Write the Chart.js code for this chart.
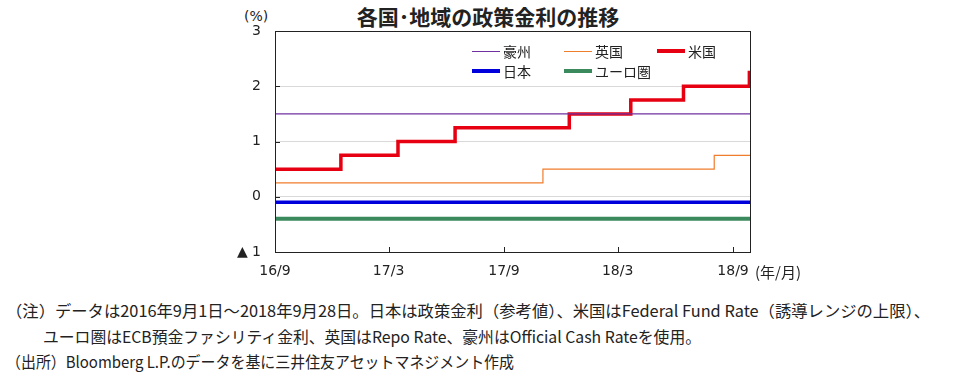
<!DOCTYPE html>
<html>
<head>
<meta charset="utf-8">
<script src="https://cdn.jsdelivr.net/npm/chart.js@4.4.1/dist/chart.umd.min.js"></script>
<style>
  body { margin: 0; background: #fff; width: 960px; height: 376px; overflow: hidden; position: relative;
         font-family: "Noto Sans CJK JP", "DejaVu Sans", sans-serif; color: #222; }
  .abs { position: absolute; white-space: nowrap; }
  #wrap { position: absolute; left: 0; top: 0; width: 960px; height: 290px; }
  .lg { position: absolute; height: 20px; line-height: 20px; font-size: 14px; white-space: nowrap; padding-left: 31px; }
  .lg i { position: absolute; left: 0; width: 28px; }
  .note { position: absolute; font-size: 16px; height: 24px; line-height: 24px; white-space: nowrap; transform-origin: 0 50%; }
</style>
</head>
<body>
<div class="abs" style="left:0;width:976px;top:3px;height:26px;line-height:26px;text-align:center;font-size:21px;font-weight:bold;">各国･地域の政策金利の推移</div>
<div class="abs" style="left:244px;top:6px;height:20px;line-height:20px;font-size:14px;font-family:'DejaVu Sans',sans-serif;">(%)</div>
<div id="wrap"><canvas id="rateChart"></canvas></div>
<div class="abs" style="left:755px;top:262px;height:20px;line-height:20px;font-size:15px;">(年/月)</div>
<div id="legend"></div>
<div class="note" data-w="924" style="left:6px;top:298px;">（注）データは2016年9月1日～2018年9月28日。日本は政策金利（参考値）、米国はFederal Fund Rate（誘導レンジの上限）、</div>
<div class="note" data-w="658" style="left:43px;top:324px;">ユーロ圏はECB預金ファシリティ金利、英国はRepo Rate、豪州はOfficial Cash Rateを使用。</div>
<div class="note" data-w="508" style="left:6px;top:349px;">（出所）Bloomberg L.P.のデータを基に三井住友アセットマネジメント作成</div>
<script>
// date range of the data
const startDate = '2016-09-01'
const endDate = '2018-09-28'

// x axis ticks
const xTickDates = ['2016-09-01', '2017-03-01', '2017-09-01', '2018-03-01', '2018-09-01']
const xTickLabels = ['16/9', '17/3', '17/9', '18/3', '18/9']

// policy rates (%), value holds until next change date
const auDates = ['2016-09-01', '2018-09-28']
const auRates = [1.5, 1.5]
const ukDates = ['2016-09-01', '2017-11-02', '2018-08-02', '2018-09-28']
const ukRates = [0.25, 0.5, 0.75, 0.75]
const usDates = ['2016-09-01', '2016-12-15', '2017-03-16', '2017-06-15', '2017-12-14', '2018-03-22', '2018-06-14', '2018-09-27', '2018-09-28']
const usRates = [0.5, 0.75, 1.0, 1.25, 1.5, 1.75, 2.0, 2.25, 2.25]
const jpDates = ['2016-09-01', '2018-09-28']
const jpRates = [-0.1, -0.1]
const euDates = ['2016-09-01', '2018-09-28']
const euRates = [-0.4, -0.4]

const dayMs = 86400000
const toDay = (s) => (Date.parse(s) - Date.parse(startDate)) / dayMs
const toPoints = (dates, rates) => dates.map((d, i) => ({x: toDay(d), y: rates[i]}))

const series = [
    {label: '豪州', dates: auDates, rates: auRates, color: '#7030a0', width: 1.2, lg: [472, 41]},
    {label: '英国', dates: ukDates, rates: ukRates, color: '#f07d2c', width: 1.2, lg: [564, 41]},
    {label: '米国', dates: usDates, rates: usRates, color: '#e60012', width: 3.5, lg: [657, 41]},
    {label: '日本', dates: jpDates, rates: jpRates, color: '#0000dc', width: 3.5, lg: [472, 61]},
    {label: 'ユーロ圏', dates: euDates, rates: euRates, color: '#3b8a5e', width: 4, lg: [564, 61]},
]

const legend = document.getElementById('legend')
for (const s of series) {
    const el = document.createElement('div')
    el.className = 'lg'
    el.style.left = s.lg[0] + 'px'
    el.style.top = s.lg[1] + 'px'
    const h = Math.max(1, Math.round(s.width))
    el.innerHTML = `<i style="top:${10 - Math.floor(h / 2)}px;height:${h}px;background:${s.color}"></i>${s.label}`
    legend.appendChild(el)
}

// box border and inward tick marks
const framePlugin = {
    id: 'frame',
    afterDraw(chart) {
        const {ctx, chartArea: a, scales} = chart
        ctx.save()
        ctx.strokeStyle = '#222'
        ctx.lineWidth = 1
        ctx.beginPath()
        for (const v of [0, 1, 2]) {
            const y = Math.round(scales.y.getPixelForValue(v)) + 0.5
            ctx.moveTo(a.left, y)
            ctx.lineTo(a.left + 5, y)
        }
        for (const t of scales.x.ticks) {
            const x = Math.round(scales.x.getPixelForValue(t.value)) + 0.5
            ctx.moveTo(x, a.bottom)
            ctx.lineTo(x, a.bottom - 5)
        }
        ctx.stroke()
        ctx.strokeRect(Math.round(a.left) + 0.5, Math.round(a.top) + 0.5, Math.round(a.width), Math.round(a.height))
        ctx.restore()
    }
}

const tickFont = {family: "'DejaVu Sans', sans-serif", size: 14}

new Chart(document.getElementById('rateChart'), {
    type: 'line',
    data: {
        datasets: series.map(s => ({
            label: s.label,
            data: toPoints(s.dates, s.rates),
            borderColor: s.color,
            backgroundColor: s.color,
            borderWidth: s.width,
            stepped: true,
            pointRadius: 0,
            fill: false,
        }))
    },
    options: {
        responsive: true,
        maintainAspectRatio: false,
        animation: false,
        layout: {padding: {left: 235, right: 210, top: 31, bottom: 10}},
        plugins: {legend: {display: false}, tooltip: {enabled: false}},
        scales: {
            x: {
                type: 'linear',
                min: 0,
                max: toDay(endDate),
                afterBuildTicks: (scale) => {
                    scale.ticks = xTickDates.map(d => ({value: toDay(d)}))
                },
                afterFit: (scale) => { scale.height = 28 },
                grid: {display: false, drawTicks: false},
                border: {display: false},
                ticks: {
                    font: tickFont,
                    color: '#222',
                    padding: 11,
                    maxRotation: 0,
                    autoSkip: false,
                    callback: (v) => xTickLabels[xTickDates.findIndex(d => toDay(d) === v)],
                },
            },
            y: {
                min: -1,
                max: 3,
                afterFit: (scale) => { scale.width = 40 },
                grid: {
                    drawTicks: false,
                    color: (c) => (c.tick.value > -1 && c.tick.value < 3) ? '#d9d9d9' : 'rgba(0,0,0,0)',
                },
                border: {display: false},
                ticks: {
                    stepSize: 1,
                    font: tickFont,
                    color: '#222',
                    padding: 14,
                    callback: (v) => v < 0 ? '▲ ' + Math.abs(v) : v,
                },
            }
        }
    },
    plugins: [framePlugin]
})

// squeeze the note lines to the widths used in the original
for (const n of document.querySelectorAll('.note')) {
    const w = n.getBoundingClientRect().width
    n.style.transform = `scaleX(${Number(n.dataset.w) / w})`
}
</script>
</body>
</html>
